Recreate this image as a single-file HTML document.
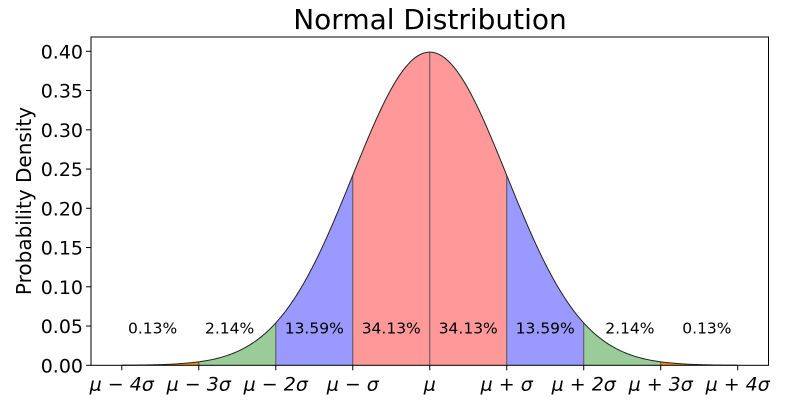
<!DOCTYPE html>
<html><head><meta charset="utf-8">
<style>
html,body{margin:0;padding:0;background:#fff;}
svg{display:block;font-family:"DejaVu Sans","Liberation Sans",sans-serif;}
</style></head>
<body>
<svg id="chart" width="800" height="419" viewBox="0 0 800 419" xmlns="http://www.w3.org/2000/svg">
<text x="430" y="29" font-size="28" text-anchor="middle">Normal Distribution</text>
<text transform="translate(31,201) rotate(-90)" font-size="20" text-anchor="middle">Probability Density</text>
<g id="regions"></g>
<g id="curve"></g>
<g id="labels"></g>
<g id="axes"></g>
</svg>
<script>
const regionBounds = [-4, -3, -2, -1, 0, 1, 2, 3, 4];
const regionColors = ["#ff8c00", "#99cc99", "#9999ff", "#ff9999", "#ff9999", "#9999ff", "#99cc99", "#ff8c00"];
const percentLabels = ["0.13%", "2.14%", "13.59%", "34.13%", "34.13%", "13.59%", "2.14%", "0.13%"];
const labelX = [-3.6, -2.6, -1.5, -0.5, 0.5, 1.5, 2.6, 3.6];
const labelY = 0.0475;
const yTicks = [0, 0.05, 0.10, 0.15, 0.20, 0.25, 0.30, 0.35, 0.40];
const yTickLabels = ["0.00","0.05","0.10","0.15","0.20","0.25","0.30","0.35","0.40"];
const xTicks = [-4, -3, -2, -1, 0, 1, 2, 3, 4];
const xTickLabels = ["μ − 4σ","μ − 3σ","μ − 2σ","μ − σ","μ","μ + σ","μ + 2σ","μ + 3σ","μ + 4σ"];

const L = 91, R = 768.5, T = 37, B = 365.3;
const xMin = -4.4, xMax = 4.4, yMin = 0, yMax = 0.4182;
const sx = v => L + (v - xMin) / (xMax - xMin) * (R - L);
const sy = v => B - (v - yMin) / (yMax - yMin) * (B - T);
const pdf = z => Math.exp(-z*z/2) / Math.sqrt(2*Math.PI);
const NS = "http://www.w3.org/2000/svg";
const mk = (t, a, p) => { const e = document.createElementNS(NS, t); for (const k in a) e.setAttribute(k, a[k]); p.appendChild(e); return e; };

const gR = document.getElementById('regions');
for (let i = 0; i < regionBounds.length - 1; i++) {
  const a = regionBounds[i], b = regionBounds[i+1];
  let d = `M${sx(a)},${sy(0)}`;
  for (let k = 0; k <= 60; k++) { const z = a + (b - a) * k / 60; d += ` L${sx(z).toFixed(2)},${sy(pdf(z)).toFixed(2)}`; }
  d += ` L${sx(b)},${sy(0)} Z`;
  const p = mk('path', {d: d, fill: regionColors[i], stroke: 'none'}, gR);
  
  
}
const gC = document.getElementById('curve');
for (let i = 1; i < regionBounds.length - 1; i++) {
  const z = regionBounds[i];
  const ln = mk('line', {x1: sx(z), x2: sx(z), y1: sy(0), y2: sy(pdf(z)), stroke: '#555', 'stroke-width': 1}, gC);
  
  
}
let cd = '';
for (let k = 0; k <= 400; k++) { const z = -4 + 8 * k / 400; cd += (k ? ' L' : 'M') + sx(z).toFixed(2) + ',' + sy(pdf(z)).toFixed(2); }
const cp = mk('path', {d: cd, fill: 'none', stroke: '#222', 'stroke-width': 1}, gC);



const gL = document.getElementById('labels');
percentLabels.forEach((t, i) => {
  const e = mk('text', {x: sx(labelX[i]), y: sy(labelY) + 5.5, 'font-size': 15.5, 'text-anchor': 'middle'}, gL);
  e.textContent = t;
  
  
});

const gA = document.getElementById('axes');
const fr = mk('rect', {x: L, y: T, width: R - L, height: B - T, fill: 'none', stroke: '#000', 'stroke-width': 1}, gA);


yTicks.forEach((v, i) => {
  mk('line', {x1: L - 5, x2: L, y1: sy(v), y2: sy(v), stroke: '#000'}, gA);
  const t = mk('text', {x: L - 8, y: sy(v) + 7, 'font-size': 19, 'text-anchor': 'end'}, gA);
  t.textContent = yTickLabels[i];
  
  
});
xTicks.forEach((v, i) => {
  mk('line', {x1: sx(v), x2: sx(v), y1: B, y2: B + 5, stroke: '#000'}, gA);
  const t = mk('text', {x: sx(v), y: B + 25, 'font-size': 19, 'font-style': 'italic', 'text-anchor': 'middle'}, gA);
  t.textContent = xTickLabels[i];
  
  
});
</script>
</body></html>
